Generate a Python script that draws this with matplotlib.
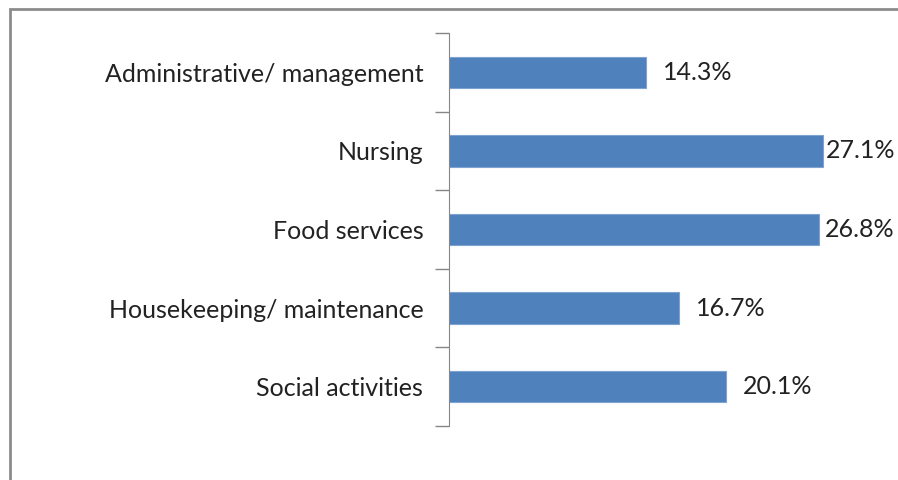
import numpy as np
import matplotlib.pyplot as plt
from matplotlib.patches import Rectangle

categories = ["Administrative/ management", "Nursing", "Food services",
              "Housekeeping/ maintenance", "Social activities"]
values = [14.3, 27.1, 26.8, 16.7, 20.1]

plt.rcParams['font.family'] = ['Lato', 'DejaVu Sans']

fig = plt.figure(figsize=(8.98, 4.8), dpi=100)
ax = fig.add_axes([449 / 898, 1 - 426 / 480, 414 / 898, 393 / 480])

y = np.arange(len(categories))
ax.barh(y, values, height=0.4, color="#4F81BD", edgecolor="#7FA3D1", linewidth=0.8)

ax.set_xlim(0, 30)
ax.set_ylim(len(categories) - 0.5, -0.5)

labels = []
for yi, v in zip(y, values):
    t = ax.annotate(f"{v}%", (v, yi), xytext=(12, 0), textcoords="offset points",
                    va="center", ha="left", fontsize=18, color="#222222")
    labels.append(t)

ax.set_yticks(y)
ax.set_yticklabels(categories, fontsize=18, color="#222222")
ax.tick_params(axis="y", which="major", length=0, pad=18.5)
ax.set_yticks(np.arange(-0.5, len(categories)), minor=True)
ax.tick_params(axis="y", which="minor", length=10, color="#868686", width=1)
ax.set_xticks([])

for s in ["top", "right", "bottom"]:
    ax.spines[s].set_visible(False)
ax.spines["left"].set_color("#868686")

# keep long value labels inside the chart, like Excel does
fig.canvas.draw()
r = fig.canvas.get_renderer()
for t in labels:
    over = t.get_window_extent(r).x1 - 895
    if over > 0:
        dx, dy = t.xyann
        t.xyann = (dx - over * 72 / fig.dpi, dy)

# chart border (runs off the right and bottom of the picture)
fig.patches.append(Rectangle((10 / 898, -0.1), 1.0, 1 - 9 / 480 + 0.1,
                             transform=fig.transFigure, fill=False,
                             edgecolor="#8C8C8C", linewidth=2))

fig.savefig("out.png", dpi=100)
